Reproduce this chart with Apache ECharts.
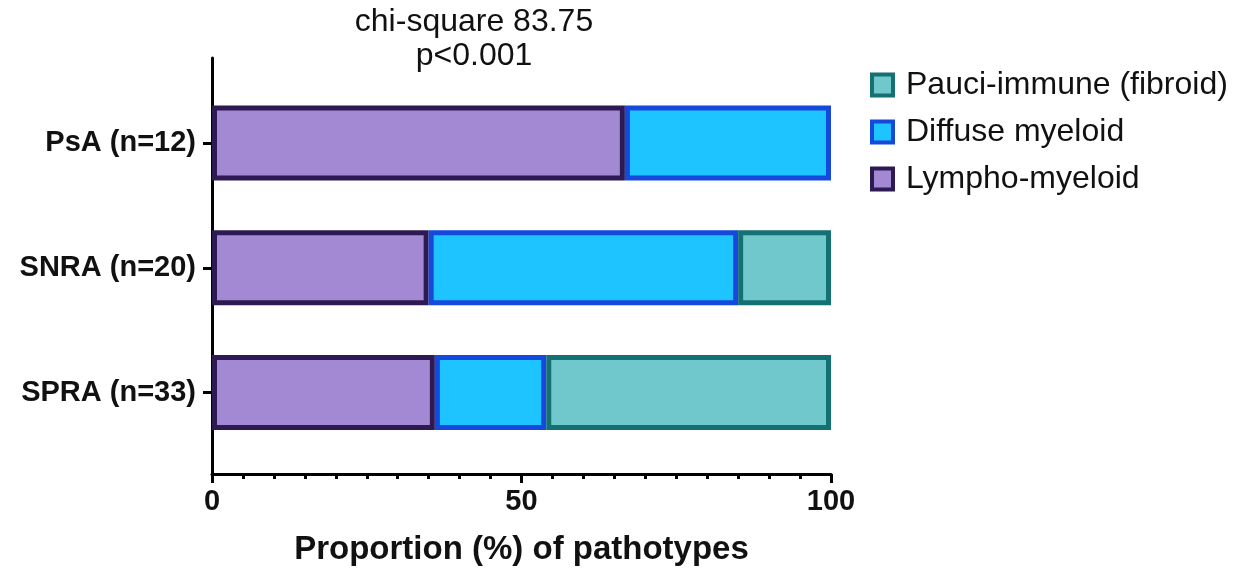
<!DOCTYPE html>
<html>
<head>
<meta charset="utf-8">
<script src="https://cdn.jsdelivr.net/npm/echarts@6/dist/echarts.min.js"></script>
<style>
  html, body { margin: 0; padding: 0; background: #ffffff; }
  #chart { width: 1244px; height: 571px; }
</style>
</head>
<body>
<div id="chart"></div>
<script>
// Cohorts (top to bottom)
const groups = ['PsA (n=12)', 'SNRA (n=20)', 'SPRA (n=33)'];
// Proportion (%) of each pathotype per cohort
const lymphoMyeloid = [66.7, 35, 36];
const diffuseMyeloid = [33.3, 50, 18];
const pauciImmune = [0, 15, 46];
// Axis ticks
const xTicks = [0, 50, 100];
const statLines = ['chi-square 83.75', 'p<0.001'];

const FONT = '"Liberation Sans", Arial, Helvetica, sans-serif';

// fill / edge colours per pathotype
const palette = {
  'Lympho-myeloid': ['#a389d4', '#2e1a52'],
  'Diffuse myeloid': ['#1ec4ff', '#1548dc'],
  'Pauci-immune (fibroid)': ['#70c7cc', '#137073']
};

function segData(values) {
  // a zero-width segment should not leave a border stroke behind
  return values.map(v => v === 0 ? { value: 0, itemStyle: { borderWidth: 0 } } : v);
}

function barSeries(name, values) {
  const [fill, edge] = palette[name];
  return {
    name: name,
    type: 'bar',
    stack: 'total',
    barWidth: 75,
    xAxisIndex: 0,
    yAxisIndex: 0,
    itemStyle: { color: fill, borderColor: edge, borderWidth: 5 },
    data: segData(values)
  };
}

const legendOrder = ['Pauci-immune (fibroid)', 'Diffuse myeloid', 'Lympho-myeloid'];

const chart = echarts.init(document.getElementById('chart'), null, { renderer: 'canvas' });

chart.setOption({
  backgroundColor: '#ffffff',
  animation: false,
  title: {
    text: statLines.join('\n'),
    left: 469,
    top: 0,
    textAlign: 'center',
    textStyle: { fontFamily: FONT, fontSize: 32, fontWeight: 'normal', color: '#111', lineHeight: 34 }
  },
  legend: {
    orient: 'vertical',
    left: 870,
    top: 69,
    padding: 0,
    itemWidth: 21,
    itemHeight: 21,
    itemGap: 15,
    icon: 'rect',
    data: legendOrder.map(n => ({
      name: n,
      itemStyle: { color: palette[n][0], borderColor: palette[n][1], borderWidth: 4 }
    })),
    textStyle: { fontFamily: FONT, fontSize: 32, color: '#111', padding: [0, 0, 0, 8] }
  },
  grid: [
    { left: 212, right: 413, top: 80.5, height: 375 },
    { left: 212, right: 413, top: 58, bottom: 97 }
  ],
  xAxis: [
    {
      gridIndex: 0,
      type: 'value',
      min: xTicks[0],
      max: xTicks[xTicks.length - 1],
      interval: xTicks[1] - xTicks[0],
      offset: 19,
      name: 'Proportion (%) of pathotypes',
      nameLocation: 'middle',
      nameGap: 59,
      nameTextStyle: { fontFamily: FONT, fontSize: 33, fontWeight: 'bold', color: '#111' },
      axisLine: { show: true, lineStyle: { color: '#000', width: 3 } },
      axisTick: { show: true, length: 9, lineStyle: { color: '#000', width: 3 } },
      minorTick: { show: true, splitNumber: 10, length: 5, lineStyle: { color: '#000', width: 3 } },
      axisLabel: { fontFamily: FONT, fontSize: 29, fontWeight: 'bold', color: '#111', margin: 13 },
      splitLine: { show: false }
    },
    { gridIndex: 1, type: 'value', show: false, min: 0, max: 1 }
  ],
  yAxis: [
    {
      gridIndex: 0,
      type: 'category',
      inverse: true,
      data: groups,
      axisLine: { show: false },
      axisTick: { show: true, alignWithLabel: true, length: 9, lineStyle: { color: '#000', width: 3 } },
      axisLabel: { fontFamily: FONT, fontSize: 29, fontWeight: 'bold', color: '#111', margin: 16 }
    },
    {
      gridIndex: 1,
      type: 'value',
      min: 0,
      max: 1,
      axisLine: { show: true, lineStyle: { color: '#000', width: 3 } },
      axisTick: { show: false },
      axisLabel: { show: false },
      splitLine: { show: false }
    }
  ],
  series: [
    barSeries('Lympho-myeloid', lymphoMyeloid),
    barSeries('Diffuse myeloid', diffuseMyeloid),
    barSeries('Pauci-immune (fibroid)', pauciImmune)
  ]
});
</script>
</body>
</html>
